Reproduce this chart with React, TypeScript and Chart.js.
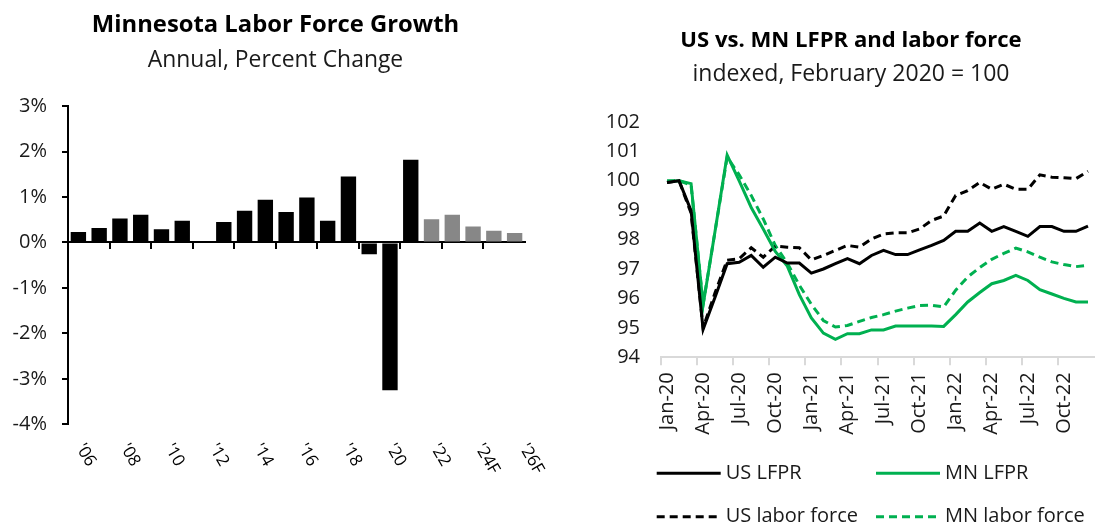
import React, { useEffect, useRef } from "react";
import { Chart, registerables } from "chart.js";

Chart.register(...registerables);

const FONT = "'Open Sans', sans-serif";
const GREEN = "#00B050";

// ---------- Left chart data ----------
const years = ["'06", "'07", "'08", "'09", "'10", "'11", "'12", "'13", "'14", "'15", "'16", "'17", "'18", "'19", "'20", "'21", "'22", "'23F", "'24F", "'25F", "'26F", "'27F"];
const growth = [0.23, 0.32, 0.53, 0.61, 0.29, 0.48, 0.0, 0.45, 0.7, 0.94, 0.67, 0.99, 0.48, 1.45, -0.26, -3.25, 1.82, 0.51, 0.61, 0.35, 0.26, 0.21];
const growthMin = -4;
const growthMax = 3;

// ---------- Right chart data ----------
const months = [
  "Jan-20", "Feb-20", "Mar-20", "Apr-20", "May-20", "Jun-20", "Jul-20", "Aug-20", "Sep-20", "Oct-20", "Nov-20", "Dec-20",
  "Jan-21", "Feb-21", "Mar-21", "Apr-21", "May-21", "Jun-21", "Jul-21", "Aug-21", "Sep-21", "Oct-21", "Nov-21", "Dec-21",
  "Jan-22", "Feb-22", "Mar-22", "Apr-22", "May-22", "Jun-22", "Jul-22", "Aug-22", "Sep-22", "Oct-22", "Nov-22", "Dec-22",
];
const usLfpr = [99.94, 100, 98.98, 94.95, 96.05, 97.18, 97.23, 97.46, 97.06, 97.4, 97.2, 97.2, 96.86, 97.0, 97.18, 97.35, 97.18, 97.46, 97.63, 97.49, 97.49, 97.65, 97.8, 97.97, 98.28, 98.28, 98.56, 98.28, 98.44, 98.28, 98.11, 98.44, 98.44, 98.28, 98.28, 98.46];
const mnLfpr = [99.97, 100, 99.9, 95.77, 98.3, 100.87, 99.99, 99.09, 98.36, 97.6, 97.1, 96.13, 95.34, 94.82, 94.61, 94.8, 94.8, 94.93, 94.93, 95.06, 95.06, 95.06, 95.06, 95.05, 95.45, 95.88, 96.2, 96.5, 96.61, 96.78, 96.61, 96.3, 96.15, 96.0, 95.88, 95.88];
const usLabor = [99.94, 100, 98.9, 95.0, 96.2, 97.3, 97.35, 97.72, 97.4, 97.78, 97.74, 97.72, 97.31, 97.46, 97.63, 97.8, 97.74, 98.02, 98.19, 98.23, 98.23, 98.36, 98.65, 98.8, 99.5, 99.66, 99.94, 99.71, 99.88, 99.71, 99.71, 100.2, 100.12, 100.1, 100.07, 100.32];
const mnLabor = [100, 100, 99.85, 95.8, 98.3, 100.8, 100.2, 99.5, 98.7, 97.8, 97.2, 96.45, 95.8, 95.25, 95.03, 95.08, 95.22, 95.35, 95.45, 95.57, 95.67, 95.76, 95.77, 95.71, 96.28, 96.73, 97.05, 97.33, 97.53, 97.71, 97.58, 97.4, 97.24, 97.15, 97.08, 97.12];
const indexMin = 94;
const indexMax = 102;

const seriesNames = ["US LFPR", "MN LFPR", "US labor force", "MN labor force"];

const leftLabelsPlugin = {
  id: "leftLabels",
  afterDraw(chart: any) {
    const ctx = chart.ctx;
    const xs = chart.scales.x;
    ctx.save();
    ctx.font = `17px ${FONT}`;
    ctx.fillStyle = "#000";
    ctx.textAlign = "left";
    ctx.textBaseline = "middle";
    years.forEach((lab, i) => {
      if (i % 2) return;
      const p = xs.getPixelForValue(i);
      const x = p + 0.8 + 0.0675 * (p - xs.left);
      ctx.save();
      ctx.translate(x, 445);
      ctx.rotate((60 * Math.PI) / 180);
      ctx.fillText(lab, 0, 0);
      ctx.restore();
    });
    ctx.restore();
  },
};

const rightLegendPlugin = {
  id: "rightLegend",
  afterDraw(chart: any) {
    const ctx = chart.ctx;
    const cols = [96.7, 316];
    const rows = [473.3, 516.7];
    ctx.save();
    ctx.font = `20px ${FONT}`;
    ctx.fillStyle = "#1a1a1a";
    ctx.textAlign = "left";
    ctx.textBaseline = "middle";
    chart.data.datasets.forEach((ds: any, i: number) => {
      const x = cols[i % 2];
      const y = rows[Math.floor(i / 2)];
      ctx.save();
      ctx.strokeStyle = ds.borderColor;
      ctx.lineWidth = 3;
      ctx.setLineDash(ds.borderDash || []);
      ctx.beginPath();
      ctx.moveTo(x, y);
      ctx.lineTo(x + 64, y);
      ctx.stroke();
      ctx.restore();
      ctx.fillText(ds.label, x + 69, y);
    });
    ctx.restore();
  },
};

export default function App() {
  const leftRef = useRef<HTMLCanvasElement>(null);
  const rightRef = useRef<HTMLCanvasElement>(null);

  useEffect(() => {
    const c1 = new Chart(leftRef.current as HTMLCanvasElement, {
      type: "bar",
      data: {
        labels: years,
        datasets: [
          {
            label: "Growth",
            data: growth,
            yAxisID: "y",
            backgroundColor: years.map((y) => (y.includes("F") ? "#878787" : "#000000")),
            barPercentage: 0.74,
            categoryPercentage: 1,
          },
        ],
      },
      options: {
        responsive: false,
        maintainAspectRatio: false,
        animation: false,
        layout: { padding: { left: 0, right: 9, top: 0, bottom: 99.7 } },
        plugins: {
          legend: { display: false },
          tooltip: { enabled: false },
          title: {
            display: true,
            text: "Minnesota Labor Force Growth",
            color: "#000",
            font: { family: FONT, size: 23.8, weight: "bold" },
            padding: { top: 10.7, bottom: 0 },
          },
          subtitle: {
            display: true,
            text: "Annual, Percent Change",
            color: "#1a1a1a",
            font: { family: FONT, size: 22.9 },
            padding: { top: 7.5, bottom: 31.9 },
          },
        },
        scales: {
          x: {
            type: "category",
            position: { y: 0 } as any,
            offset: true,
            grid: {
              offset: true,
              drawOnChartArea: false,
              drawTicks: true,
              tickLength: 6,
              lineWidth: 2,
              color: (c: any) => (c.index % 2 === 0 ? "#000" : "rgba(0,0,0,0)"),
            },
            border: { display: true, color: "#000", width: 2 },
            ticks: { display: false, autoSkip: false },
          },
          y: {
            position: "left",
            min: growthMin,
            max: growthMax,
            ticks: {
              stepSize: 1,
              color: "#1a1a1a",
              font: { family: FONT, size: 20 },
              padding: 15,
              callback: (v: any) => `${v}%`,
            },
            grid: { drawOnChartArea: false, drawTicks: true, tickLength: 6, lineWidth: 2, color: "#000" },
            border: { display: true, color: "#000", width: 2 },
            afterFit: (s: any) => {
              s.width = 68;
            },
          },
          yRight: {
            axis: "y",
            position: "right",
            display: true,
            grid: { display: false, drawTicks: false },
            border: { display: false },
            ticks: { display: false },
            afterFit: (s: any) => {
              s.width = 26;
            },
          },
        },
      },
      plugins: [leftLabelsPlugin],
    } as any);

    const c2 = new Chart(rightRef.current as HTMLCanvasElement, {
      type: "line",
      data: {
        labels: months,
        datasets: [
          { label: seriesNames[0], data: usLfpr, borderColor: "#000000", borderWidth: 3, pointRadius: 0, tension: 0, fill: false },
          { label: seriesNames[1], data: mnLfpr, borderColor: GREEN, borderWidth: 3, pointRadius: 0, tension: 0, fill: false },
          { label: seriesNames[2], data: usLabor, borderColor: "#000000", borderWidth: 3, borderDash: [8, 5], pointRadius: 0, tension: 0, fill: false },
          { label: seriesNames[3], data: mnLabor, borderColor: GREEN, borderWidth: 3, borderDash: [8, 5], pointRadius: 0, tension: 0, fill: false },
        ],
      },
      options: {
        responsive: false,
        maintainAspectRatio: false,
        animation: false,
        layout: { padding: { left: 23, right: 0, top: 0, bottom: 0 } },
        plugins: {
          legend: { display: false },
          tooltip: { enabled: false },
          title: {
            display: true,
            text: "US vs. MN LFPR and labor force",
            color: "#000",
            font: { family: FONT, size: 22.1, weight: "bold" },
            padding: { top: 27.5, bottom: 0 },
          },
          subtitle: {
            display: true,
            text: "indexed, February 2020 = 100",
            color: "#1a1a1a",
            font: { family: FONT, size: 23 },
            padding: { top: 6.8, bottom: 33.4 },
          },
        },
        scales: {
          x: {
            type: "category",
            offset: true,
            grid: {
              offset: true,
              drawOnChartArea: false,
              drawTicks: true,
              tickLength: 8,
              lineWidth: 2,
              color: (c: any) => (c.index % 3 === 0 ? "#d9d9d9" : "rgba(0,0,0,0)"),
            },
            border: { display: true, color: "#d9d9d9", width: 2 },
            ticks: {
              autoSkip: false,
              minRotation: 90,
              maxRotation: 90,
              padding: 7,
              color: "#1a1a1a",
              font: { family: FONT, size: 20 },
              callback: (_v: any, i: number) => (i % 3 === 0 ? months[i] : ""),
            },
            afterFit: (s: any) => {
              s.height = 166.7;
            },
          },
          y: {
            min: indexMin,
            max: indexMax,
            ticks: { stepSize: 1, color: "#1a1a1a", font: { family: FONT, size: 20 }, padding: 21 },
            grid: { display: false, drawTicks: false },
            border: { display: false },
            afterFit: (s: any) => {
              s.width = 78;
            },
          },
        },
      },
      plugins: [rightLegendPlugin],
    } as any);

    return () => {
      c1.destroy();
      c2.destroy();
    };
  }, []);

  return (
    <div style={{ position: "fixed", left: 0, top: 0, width: 1110, height: 524, overflow: "hidden", background: "#fff" }}>
      <canvas ref={leftRef} width={560} height={524} style={{ position: "absolute", left: 0, top: 0, width: 560, height: 524 }} />
      <canvas ref={rightRef} width={559} height={524} style={{ position: "absolute", left: 560, top: 0, width: 559, height: 524 }} />
    </div>
  );
}
